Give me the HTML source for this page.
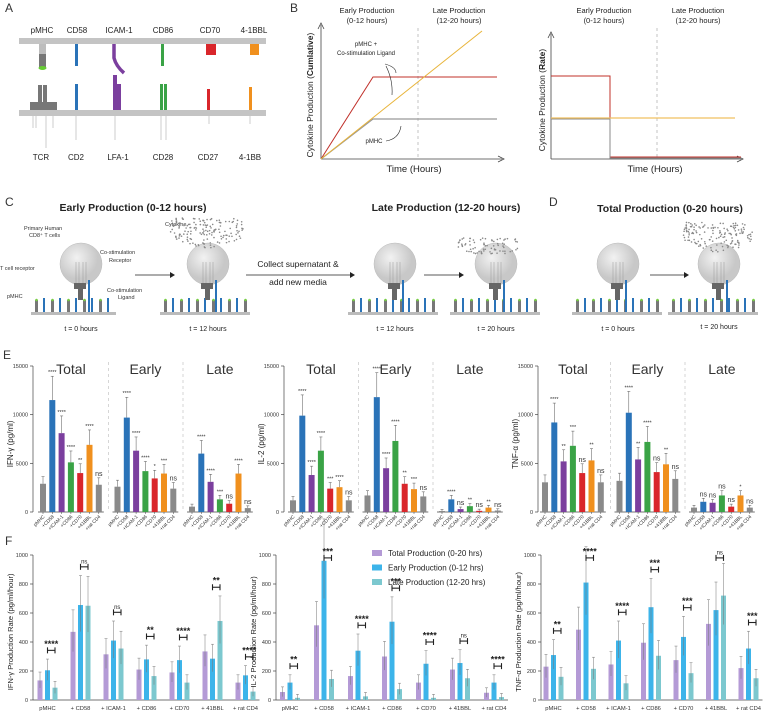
<!DOCTYPE html>
<html><head><meta charset="utf-8">
<style>
body{margin:0;background:#fff;}
svg{display:block;font-family:"Liberation Sans",sans-serif;}
</style></head>
<body>
<svg id="fig" width="763" height="716" viewBox="0 0 763 716">
<!-- Panel A -->
<g>
<text x="5" y="12" font-size="12" fill="#333">A</text>
<g font-size="8" fill="#222" text-anchor="middle">
<text x="42" y="33">pMHC</text><text x="77" y="33">CD58</text><text x="119" y="33">ICAM-1</text><text x="163" y="33">CD86</text><text x="210" y="33">CD70</text><text x="254" y="33">4-1BBL</text>
<text x="41" y="160">TCR</text><text x="76" y="160">CD2</text><text x="118" y="160">LFA-1</text><text x="163" y="160">CD28</text><text x="208" y="160">CD27</text><text x="250" y="160">4-1BB</text>
</g>
<rect x="19" y="38" width="247" height="6" fill="#c4c4c4"/>
<rect x="19" y="110" width="247" height="6" fill="#c4c4c4"/>
<rect x="39" y="44" width="7" height="10" fill="#bdbdbd"/><rect x="39" y="54" width="7" height="14" fill="#777"/><ellipse cx="42.5" cy="68" rx="4" ry="2" fill="#6c3"/>
<rect x="75" y="44" width="3" height="22" fill="#2a73b8"/>
<path d="M114 44 L114 58 Q116 66 124 73" stroke="#7b3f9e" stroke-width="3.5" fill="none"/>
<rect x="161" y="44" width="3" height="22" fill="#3aa346"/>
<rect x="206" y="44" width="10" height="11" fill="#d9262b"/>
<rect x="250" y="44" width="9" height="11" fill="#f0901e"/>
<rect x="30" y="102" width="27" height="8" fill="#777"/><rect x="38" y="85" width="4" height="17" fill="#777"/><rect x="43" y="85" width="4" height="17" fill="#777"/>
<rect x="75" y="84" width="3" height="26" fill="#2a73b8"/>
<rect x="113" y="75" width="4" height="35" fill="#7b3f9e"/><rect x="117" y="84" width="4" height="26" fill="#7b3f9e"/>
<rect x="160" y="84" width="3" height="26" fill="#3aa346"/><rect x="164" y="84" width="3" height="26" fill="#3aa346"/>
<rect x="207" y="89" width="3" height="21" fill="#d9262b"/>
<rect x="249" y="87" width="3" height="23" fill="#f0901e"/>
<g stroke="#aaa" stroke-width="0.6"><line x1="33" y1="116" x2="33" y2="128"/><line x1="36" y1="116" x2="36" y2="128"/><line x1="46" y1="116" x2="46" y2="148"/><line x1="53" y1="116" x2="53" y2="128"/><line x1="76" y1="116" x2="76" y2="140"/><line x1="115" y1="116" x2="115" y2="140"/><line x1="161" y1="116" x2="161" y2="140"/><line x1="166" y1="116" x2="166" y2="140"/><line x1="209" y1="116" x2="209" y2="124"/><line x1="250" y1="116" x2="250" y2="124"/></g>
</g>
<!-- Panel B -->
<g>
<text x="290" y="12" font-size="12" fill="#333">B</text>
<g font-size="7.5" fill="#222" text-anchor="middle">
<text x="367" y="13">Early Production</text><text x="367" y="23">(0-12 hours)</text>
<text x="459" y="13">Late Production</text><text x="459" y="23">(12-20 hours)</text>
<text x="604" y="13">Early Production</text><text x="604" y="23">(0-12 hours)</text>
<text x="698" y="13">Late Production</text><text x="698" y="23">(12-20 hours)</text>
<text x="414" y="172" font-size="9.5">Time (Hours)</text>
<text x="655" y="172" font-size="9.5">Time (Hours)</text>
</g>
<text transform="translate(313,95) rotate(-90)" font-size="8.5" text-anchor="middle" fill="#222">Cytokine Production (<tspan font-weight="bold">Cumlative</tspan>)</text>
<text transform="translate(545,100) rotate(-90)" font-size="8.5" text-anchor="middle" fill="#222">Cytokine Production (<tspan font-weight="bold">Rate</tspan>)</text>
<g stroke="#444" stroke-width="0.8" fill="none">
<path d="M321 159 L321 25 M318 29 L321 23 L324 29 M321 159 L502 159 M498 156 L504 159 L498 162"/>
<path d="M551 159 L551 34 M548 38 L551 32 L554 38 M551 159 L741 159 M737 156 L743 159 L737 162"/>
</g>
<g stroke="#aaa" stroke-dasharray="3,3" stroke-width="0.7"><line x1="418" y1="28" x2="418" y2="159"/><line x1="657" y1="28" x2="657" y2="159"/></g>
<polyline points="321,159 373,77 497,77" stroke="#c0302a" fill="none" stroke-width="1"/>
<polyline points="321,159 373,119 497,119" stroke="#999" fill="none" stroke-width="1.2"/>
<line x1="321" y1="159" x2="482" y2="31" stroke="#e8b43a" stroke-width="1"/>
<polyline points="551,76 610,76 610,157 741,157" stroke="#c0302a" fill="none" stroke-width="1"/>
<polyline points="551,119 610,119 610,158 741,158" stroke="#888" fill="none" stroke-width="1"/>
<line x1="551" y1="118" x2="735" y2="118" stroke="#f0c060" stroke-width="1.2"/>
<g font-size="6" fill="#222" text-anchor="middle"><text x="366" y="46">pMHC +</text><text x="366" y="55">Co-stimulation Ligand</text><text x="374" y="143">pMHC</text></g>
<g stroke="#222" stroke-width="0.6" fill="none"><path d="M385 64 Q396 67 396 73"/><path d="M386 66 Q393 80 392 95"/><path d="M386 141 Q399 139 401 126"/></g>
</g>
<!-- Panel C / D -->
<g>
<text x="5" y="206" font-size="12" fill="#333">C</text>
<text x="549" y="206" font-size="12" fill="#333">D</text>
<g font-size="10.5" font-weight="bold" fill="#222" text-anchor="middle">
<text x="133" y="211">Early Production (0-12 hours)</text>
<text x="446" y="211">Late Production (12-20 hours)</text>
<text x="670" y="212">Total Production (0-20 hours)</text>
</g>
<g font-size="7" fill="#222" text-anchor="middle">
<text x="81" y="331">t = 0 hours</text><text x="208" y="331">t = 12 hours</text><text x="395" y="331">t = 12 hours</text><text x="496" y="331">t = 20 hours</text><text x="618" y="331">t = 0 hours</text><text x="719" y="329">t = 20 hours</text>
</g>
<g font-size="5.5" fill="#333">
<text x="24" y="230">Primary Human</text><text x="29" y="237">CD8⁺ T cells</text>
<text x="100" y="254">Co-stimulation</text><text x="109" y="262">Receptor</text>
<text x="0" y="270">T cell receptor</text>
<text x="7" y="298">pMHC</text>
<text x="107" y="292">Co-stimulation</text><text x="118" y="299">Ligand</text>
<text x="165" y="226">Cytokine</text>
</g>
<g font-size="8.5" fill="#222" text-anchor="middle"><text x="298" y="267">Collect supernatant &amp;</text><text x="298" y="285">add new media</text></g>
<g stroke="#222" stroke-width="0.8"><line x1="246" y1="275" x2="350" y2="275"/><line x1="135" y1="275" x2="170" y2="275"/><line x1="424" y1="275" x2="459" y2="275"/><line x1="650" y1="275" x2="684" y2="275"/></g>
<g fill="#222"><path d="M350 272 L355 275 L350 278Z"/><path d="M170 272 L175 275 L170 278Z"/><path d="M459 272 L464 275 L459 278Z"/><path d="M684 272 L689 275 L684 278Z"/></g>
<g id="cells"></g>
</g>
<defs><radialGradient id="cellg" cx="40%" cy="35%"><stop offset="0" stop-color="#f2f2f2"/><stop offset="1" stop-color="#c8c8c8"/></radialGradient></defs>
<g id="chartE"></g>
<g id="chartF"></g>
</svg>
<script>
// ---------- Panel E data ----------
const eCats = ["pMHC","+CD58","+ICAM-1","+CD86","+CD70","+41BBL","+rat CD4"];
const eGroups = ["Total","Early","Late"];
const eTicks = [0,5000,10000,15000];
const ifnTotal = [2900,11500,8100,5100,4000,6900,2800];
const ifnEarly = [2600,9700,6300,4200,3450,3950,2400];
const ifnLate  = [550,6000,3100,1300,850,3950,400];
const il2Total = [1200,9900,3800,6300,2400,2550,1200];
const il2Early = [1700,11800,4500,7300,2900,2350,1600];
const il2Late  = [100,1300,300,600,120,450,150];
const tnfTotal = [3050,9200,5200,6800,4000,5300,3050];
const tnfEarly = [3200,10200,5400,7200,4100,4900,3400];
const tnfLate  = [450,1050,950,1700,550,1700,450];
const ifnStars = [["","****","****","****","**","****","ns"],["","****","****","****","*","***","ns"],["","****","****","***","ns","****","ns"]];
const il2Stars = [["","****","****","****","***","****","ns"],["","****","****","****","**","***","ns"],["","****","ns","**","ns","**","ns"]];
const tnfStars = [["","****","**","***","ns","**","ns"],["","****","**","****","ns","**","ns"],["","ns","ns","ns","ns","*","ns"]];
// ---------- Panel F data ----------
const fCats = ["pMHC","+ CD58","+ ICAM-1","+ CD86","+ CD70","+ 41BBL","+ rat CD4"];
const fSeries = ["Total Production (0-20 hrs)","Early Production (0-12 hrs)","Late Production (12-20 hrs)"];
const fTicks = [0,200,400,600,800,1000];
const ifnRateTotal = [135,470,315,210,190,335,120];
const ifnRateEarly = [205,655,410,280,275,285,170];
const ifnRateLate  = [85,650,355,165,120,545,58];
const il2RateTotal = [55,515,165,300,120,210,50];
const il2RateEarly = [120,960,340,540,250,255,120];
const il2RateLate  = [15,145,25,75,15,150,20];
const tnfRateTotal = [230,485,245,395,275,525,220];
const tnfRateEarly = [310,810,410,640,435,620,355];
const tnfRateLate  = [160,215,115,305,185,720,150];
const ifnSig = ["****","ns","ns","**","****","**","****"];
const il2Sig = ["**","***","****","***","****","ns","****"];
const tnfSig = ["**","****","****","***","***","ns","***"];

const NS="http://www.w3.org/2000/svg";
function mk(tag, attrs, parent){const e=document.createElementNS(NS,tag);for(const k in attrs)e.setAttribute(k,attrs[k]);parent.appendChild(e);return e;}

// cells decoration
const cellsG=document.getElementById('cells');
const cellX=[81,208,395,496,618,719];
const surfW=[[31,116],[160,250],[348,438],[450,540],[572,662],[668,758]];
cellX.forEach((cx,ci)=>{
  const g=mk('g',{},cellsG);
  
  
  const s=surfW[ci];
  mk('rect',{x:s[0],y:312,width:s[1]-s[0],height:3,fill:'#bbb'},g);
  for(let x=s[0]+4,k=0;x<s[1]-3;x+=8,k++){
    if(k%2===0){mk('rect',{x:x,y:300,width:3,height:12,fill:'#777'},g);mk('circle',{cx:x+1.5,cy:300,r:1.3,fill:'#7c4'},g);}
    else mk('rect',{x:x,y:298,width:2,height:14,fill:'#2a73b8'},g);
  }
  mk('circle',{cx:cx,cy:264,r:21,fill:'url(#cellg)',stroke:'#bbb','stroke-width':0.5},g);
  mk('rect',{x:cx-7,y:283,width:12,height:6,fill:'#666'},g);
  mk('rect',{x:cx-3,y:289,width:5,height:11,fill:'#666'},g);
  mk('rect',{x:cx+7,y:280,width:2,height:32,fill:'#2a73b8'},g);
  [ -5,-2,2,5].forEach(d=>mk('line',{x1:cx+d,y1:262,x2:cx+d,y2:283,stroke:'#999','stroke-width':0.5},g));
});
const clouds=[[170,218,75,30],[458,238,60,18],[683,222,70,30]];
clouds.forEach((c,ci)=>{
  const g=mk('g',{fill:'#888'},cellsG);
  
  
  let seed=7+ci*13;
  for(let i=0;i<Math.round(c[2]*c[3]/14);i++){
    seed=(seed*9301+49297)%233280;const rx=seed/233280;
    seed=(seed*9301+49297)%233280;const ry=seed/233280;
    mk('circle',{cx:c[0]+rx*c[2],cy:c[1]+ry*c[3]*(0.6+0.4*Math.sin(rx*3.1)),r:0.8},g);
  }
});

// ---------- Panel E ----------
const E=document.getElementById('chartE');
mk('text',{x:3,y:359,'font-size':12,fill:'#333'},E).textContent='E';
const eColors=['#8a8a8a','#2a73b8','#7b3f9e','#3aa346','#d9262b','#f0901e','#8a8a8a'];
const eY0=512, eK=146/15000;
function ey(v){return eY0-v*eK;}
const ePanels=[
 {ax:33,bx:43,title:'IFN-γ (pg/ml)',data:[ifnTotal,ifnEarly,ifnLate],stars:ifnStars,name:'ifn'},
 {ax:284,bx:293,title:'IL-2 (pg/ml)',data:[il2Total,il2Early,il2Late],stars:il2Stars,name:'il2'},
 {ax:538,bx:545,title:'TNF-α (pg/ml)',data:[tnfTotal,tnfEarly,tnfLate],stars:tnfStars,name:'tnf'}
];
const gStep=74.5, bStep=9.3, bW=6;
ePanels.forEach(p=>{
  const g=mk('g',{},E);
  
  
  mk('line',{x1:p.ax,y1:ey(0),x2:p.ax,y2:ey(15000),stroke:'#444','stroke-width':0.7},g);
  eTicks.forEach(t=>{
    mk('line',{x1:p.ax-3,y1:ey(t),x2:p.ax,y2:ey(t),stroke:'#444','stroke-width':0.7},g);
    const tl=mk('text',{x:p.ax-5,y:ey(t)+2,'font-size':5.5,'text-anchor':'end',fill:'#333'},g);
    tl.textContent=t;
    
    
  });
  const yt=mk('text',{transform:`translate(${p.ax-20},${ey(7000)}) rotate(-90)`,'font-size':8,'text-anchor':'middle',fill:'#222'},g);
  yt.textContent=p.title;
  
  
  p.data.forEach((arr,gi)=>{
    const gx=p.bx+gi*gStep;
    const ht=mk('text',{x:gx+bStep*3,y:374,'font-size':14,'text-anchor':'middle',fill:'#333'},g);
    ht.textContent=eGroups[gi];
    
    
    if(gi>0){mk('line',{x1:gx-9,y1:362,x2:gx-9,y2:ey(0),stroke:'#bbb','stroke-dasharray':'3,3','stroke-width':0.6},g);}
    mk('line',{x1:gx-5,y1:ey(0),x2:gx+bStep*6+5,y2:ey(0),stroke:'#444','stroke-width':0.7},g);
    arr.forEach((v,i)=>{
      const cx=gx+i*bStep;
      const r=mk('rect',{x:cx-bW/2,y:ey(v),width:bW,height:ey(0)-ey(v),fill:eColors[i]},g);
      
      
      const err=v*0.2+150;
      mk('line',{x1:cx,y1:ey(v),x2:cx,y2:ey(v+err),stroke:'#555','stroke-width':0.5},g);
      mk('line',{x1:cx-1.5,y1:ey(v+err),x2:cx+1.5,y2:ey(v+err),stroke:'#555','stroke-width':0.5},g);
      const s=p.stars[gi][i];
      if(s){const st=mk('text',{x:cx,y:ey(v+err)-2,'font-size':s==='ns'?7:5.5,'text-anchor':'middle',fill:'#333'},g);st.textContent=s;}
      mk('line',{x1:cx,y1:ey(0),x2:cx,y2:ey(0)+2,stroke:'#444','stroke-width':0.5},g);
      const xl=mk('text',{transform:`translate(${cx+2},${ey(0)+5}) rotate(-45)`,'font-size':4.8,'text-anchor':'end',fill:'#333'},g);
      xl.textContent=eCats[i];
      
      
    });
  });
});

// ---------- Panel F ----------
const F=document.getElementById('chartF');
mk('text',{x:5,y:545,'font-size':12,fill:'#333'},F).textContent='F';
const fColors=['#b49ad6','#3cb4ea','#7cc8cf'];
const fY0=700, fK=145/1000;
function fy(v){return fY0-v*fK;}
const fPanels=[
 {ax:33,bx:47.5,step:33,title:'IFN-γ Production Rate (pg/ml/hour)',data:[ifnRateTotal,ifnRateEarly,ifnRateLate],sig:ifnSig,name:'ifn'},
 {ax:276,bx:290,step:34,title:'IL-2 Production Rate (pg/ml/hour)',data:[il2RateTotal,il2RateEarly,il2RateLate],sig:il2Sig,name:'il2'},
 {ax:541,bx:553.5,step:32.5,title:'TNF-α Production Rate (pg/ml/hour)',data:[tnfRateTotal,tnfRateEarly,tnfRateLate],sig:tnfSig,name:'tnf'}
];
const offs=[-7.5,0,7.5], fW=5;
fPanels.forEach(p=>{
  const g=mk('g',{},F);
  
  
  mk('line',{x1:p.ax,y1:fy(0),x2:p.ax,y2:fy(1000),stroke:'#444','stroke-width':0.7},g);
  mk('line',{x1:p.ax,y1:fy(0),x2:p.bx+p.step*6+14,y2:fy(0),stroke:'#444','stroke-width':0.7},g);
  fTicks.forEach(t=>{
    mk('line',{x1:p.ax-3,y1:fy(t),x2:p.ax,y2:fy(t),stroke:'#444','stroke-width':0.7},g);
    const tl=mk('text',{x:p.ax-5,y:fy(t)+2,'font-size':5.5,'text-anchor':'end',fill:'#333'},g);
    tl.textContent=t;
    
    
  });
  const yt=mk('text',{transform:`translate(${p.ax-20},${fy(470)}) rotate(-90)`,'font-size':7.5,'text-anchor':'middle',fill:'#222'},g);
  yt.textContent=p.title;
  
  
  fCats.forEach((c,i)=>{
    const cx=p.bx+i*p.step;
    const xl=mk('text',{x:cx,y:fy(0)+10,'font-size':5.8,'text-anchor':'middle',fill:'#333'},g);
    xl.textContent=c;
    
    
    let tops=[];
    p.data.forEach((arr,si)=>{
      const v=arr[i], bx=cx+offs[si];
      const r=mk('rect',{x:bx-fW/2,y:fy(v),width:fW,height:fy(0)-fy(v),fill:fColors[si]},g);
      
      
      const err=v*0.28+20;
      tops.push(v+err);
      mk('line',{x1:bx,y1:fy(v-err*0.9>0?v-err*0.9:0),x2:bx,y2:fy(v+err),stroke:'#777','stroke-width':0.5},g);
      mk('line',{x1:bx-1.5,y1:fy(v+err),x2:bx+1.5,y2:fy(v+err),stroke:'#777','stroke-width':0.5},g);
    });
    const top=Math.max(tops[1],tops[2]);
    const by=fy(Math.min(top+60,980));
    const b=mk('g',{stroke:'#222','stroke-width':1.1},g);
    
    
    mk('line',{x1:cx,y1:by,x2:cx+offs[2],y2:by},b);
    mk('line',{x1:cx,y1:by-3,x2:cx,y2:by+3},b);
    mk('line',{x1:cx+offs[2],y1:by-3,x2:cx+offs[2],y2:by+3},b);
    const sg=p.sig[i];
    const st=mk('text',{x:cx+3.75,y:by-3.5,'font-size':sg==='ns'?6:9,'font-weight':sg==='ns'?'normal':'bold','text-anchor':'middle',fill:'#222'},g);
    st.textContent=sg;
  });
});
// legend
const lg=mk('g',{},F);


fSeries.forEach((s,i)=>{
  const ly=550+i*14.5;
  const e=mk('g',{},lg);
  
  
  mk('rect',{x:372,y:ly,width:10,height:6,fill:fColors[i]},e);
  const t=mk('text',{x:388,y:ly+6,'font-size':8,fill:'#222'},e);
  t.textContent=s;
});
</script>
</body></html>
